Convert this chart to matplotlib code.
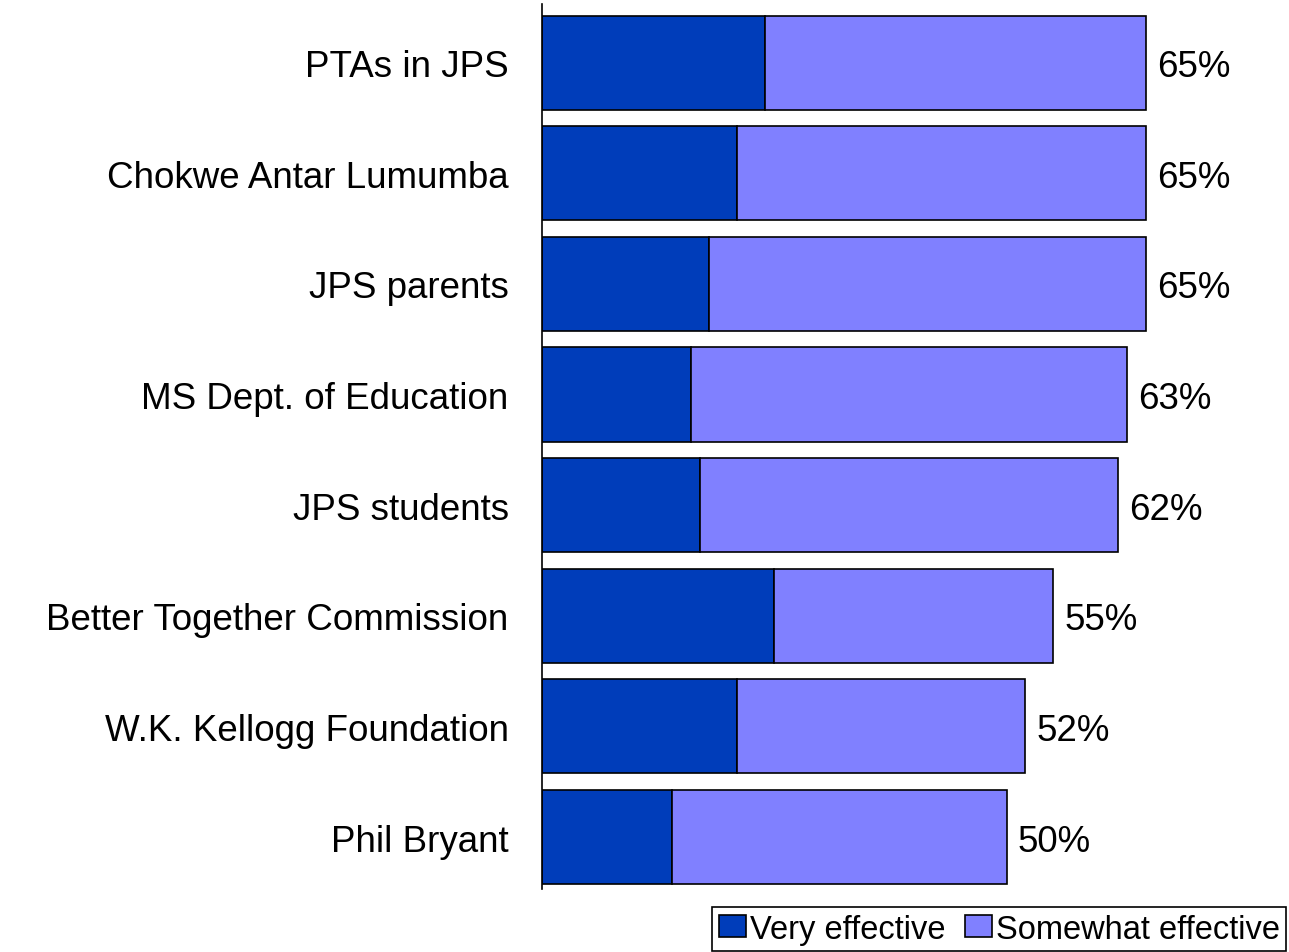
import matplotlib.pyplot as plt
import numpy as np

categories = ["PTAs in JPS", "Chokwe Antar Lumumba", "JPS parents", "MS Dept. of Education",
              "JPS students", "Better Together Commission", "W.K. Kellogg Foundation", "Phil Bryant"]
very_effective = [24, 21, 18, 16, 17, 25, 21, 14]
somewhat_effective = [41, 44, 47, 47, 45, 30, 31, 36]
totals = [65, 65, 65, 63, 62, 55, 52, 50]

dark = "#003DBA"
light = "#8080FF"

plt.rcParams["font.family"] = ["Liberation Sans", "DejaVu Sans"]

fig = plt.figure(figsize=(12.89, 9.53), dpi=100)
ax = fig.add_axes([542 / 1289, 1 - 890 / 953, 1 - 542 / 1289, (890 - 5) / 953])

y = np.arange(len(categories))
ax.barh(y, very_effective, height=0.85, color=dark, edgecolor="black", linewidth=1.2,
        label="Very effective")
ax.barh(y, somewhat_effective, left=very_effective, height=0.85, color=light,
        edgecolor="black", linewidth=1.2, label="Somewhat effective")

for yi, t in zip(y, totals):
    ax.text(t + 1.2, yi, f"{t}%", va="center_baseline", ha="left", fontsize=26.5)

ax.set_xlim(0, 80.4)
ax.set_ylim(7.47, -0.53)
ax.set_yticks(y)
ax.set_yticklabels(categories, fontsize=26.5)
ax.tick_params(axis="y", length=0, pad=24)
ax.set_xticks([])
for s in ["top", "right", "bottom"]:
    ax.spines[s].set_visible(False)
ax.spines["left"].set_linewidth(1.2)

leg = fig.legend(loc="upper left", bbox_to_anchor=(712 / 1289, 1 - 908 / 953), ncol=2,
                 fontsize=23.5, frameon=True, fancybox=False, framealpha=1,
                 edgecolor="black", handlelength=0.85, handleheight=0.65, handletextpad=0.1,
                 columnspacing=0.6, borderpad=0.2, borderaxespad=0)
leg.get_frame().set_linewidth(1.2)

fig.savefig("out.png", dpi=100)
